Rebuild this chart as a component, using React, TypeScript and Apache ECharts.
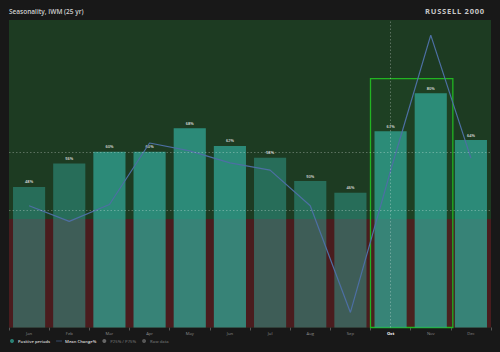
import React, { useEffect, useRef } from "react";
import * as echarts from "echarts";

// Monthly seasonality for IWM over 25 years
const months = ["Jan", "Feb", "Mar", "Apr", "May", "Jun", "Jul", "Aug", "Sep", "Oct", "Nov", "Dec"];
// Share of years in which the month closed higher (%)
const positivePeriods = [48, 56, 60, 60, 68, 62, 58, 50, 46, 67, 80, 64];
// Mean monthly change (%)
const meanChange = [0.22, -0.04, 0.24, 1.26, 1.13, 0.93, 0.81, 0.22, -1.55, 0.8, 3.05, 1.01];
// Reference levels on the positive-periods axis
const thresholds = [40, 60];
const currentMonth = "Oct";
// Highlighted window (category index range) and its height
const windowStart = 8.5;
const windowEnd = 10.55;
const windowTop = 85;

const TEAL_STRONG = "rgba(50,166,150,0.75)";
const TEAL_WEAK = "rgba(50,166,150,0.48)";
const FONT = "'Open Sans', 'Noto Sans', sans-serif";
const HS = "\u200A";

export default function App() {
  const ref = useRef<HTMLDivElement>(null);

  useEffect(() => {
    if (!ref.current) return;
    const chart = echarts.init(ref.current, null, { renderer: "svg" });
    const avg = positivePeriods.reduce((a, b) => a + b, 0) / positivePeriods.length;

    chart.setOption({
      animation: false,
      backgroundColor: "#181818",
      textStyle: { fontFamily: FONT },
      title: [
        {
          text: "Seasonality, IWM (25 yr)",
          left: 9,
          top: 8,
          padding: 0,
          textStyle: { color: "#cfcfcf", fontSize: 6.5, fontWeight: 600, fontFamily: FONT },
        },
        {
          text: "RUSSELL 2000".split("").join(HS),
          right: 16,
          top: 7,
          padding: 0,
          textStyle: { color: "#c8c8c8", fontSize: 7.5, fontWeight: "bold", fontFamily: FONT },
        },
      ],
      legend: {
        left: 10,
        top: 339,
        padding: 0,
        itemGap: 6,
        itemWidth: 6,
        itemHeight: 4,
        inactiveColor: "#666",
        textStyle: { color: "#dcdcdc", fontSize: 4.2, fontWeight: 600, fontFamily: FONT, padding: [0, 0, 0, -2] },
        selected: { "P25% / P75%": false, "Raw data": false },
        data: [
          { name: "Positive periods", icon: "circle" },
          { name: "Mean Change%", icon: "path://M0,5 L20,5 L20,7 L0,7 Z" },
          { name: "P25% / P75%", icon: "circle" },
          { name: "Raw data", icon: "circle" },
        ],
      },
      grid: {
        left: 9,
        right: 9,
        top: 20,
        bottom: 24.5,
        show: true,
        borderWidth: 0,
        backgroundColor: "#1d3b22",
      },
      xAxis: [
        {
          type: "category",
          data: months.map((m) =>
            m === currentMonth
              ? { value: m, textStyle: { color: "#ffffff", fontWeight: "bold" } }
              : m
          ),
          axisLine: { show: false },
          axisTick: { show: true, length: 3, lineStyle: { color: "#555" } },
          axisLabel: { color: "#8a8a8a", fontSize: 4.2, margin: 4 },
          splitLine: { show: false },
        },
        {
          type: "value",
          min: -0.5,
          max: 11.5,
          show: false,
        },
      ],
      yAxis: [
        { type: "value", min: 0, max: 105, show: false, splitLine: { show: false } },
        { type: "value", min: -1.8, max: 3.3, show: false, splitLine: { show: false } },
      ],
      series: [
        {
          // negative zone of the mean-change axis
          name: "zone",
          type: "line",
          yAxisIndex: 1,
          data: [],
          z: 1,
          silent: true,
          markArea: {
            silent: true,
            itemStyle: { color: "#4a1c1e" },
            data: [[{ yAxis: -1.8 }, { yAxis: 0 }]],
          },
        },
        {
          name: "Positive periods",
          type: "bar",
          z: 2,
          barWidth: "80%",
          itemStyle: { color: TEAL_STRONG },
          data: positivePeriods.map((v) => ({
            value: v,
            itemStyle: { color: v >= avg ? TEAL_STRONG : TEAL_WEAK },
          })),
          label: {
            show: true,
            position: "top",
            distance: 3,
            color: "#dddddd",
            fontSize: 4,
            fontWeight: 600,
            formatter: "{c}%",
          },
          markLine: {
            silent: true,
            symbol: "none",
            label: { show: false },
            lineStyle: { color: "rgba(255,255,255,0.28)", type: [1.5, 2], width: 1 },
            data: [
              ...thresholds.map((t) => ({ yAxis: t })),
              { xAxis: currentMonth },
            ],
          },
        },
        {
          // highlighted seasonal window
          name: "window",
          type: "line",
          xAxisIndex: 1,
          data: [],
          z: 3,
          silent: true,
          markArea: {
            silent: true,
            itemStyle: {
              color: "rgba(80,200,80,0.04)",
              borderColor: "#22b422",
              borderWidth: 1.3,
            },
            data: [[{ xAxis: windowStart, yAxis: windowTop }, { xAxis: windowEnd, yAxis: 0 }]],
          },
        },
        {
          name: "Mean Change%",
          type: "line",
          yAxisIndex: 1,
          z: 4,
          data: meanChange,
          showSymbol: false,
          symbol: "none",
          itemStyle: { color: "#4d6fa3" },
          lineStyle: { color: "#4d6fa3", width: 1.2 },
        },
        {
          name: "P25% / P75%",
          type: "line",
          yAxisIndex: 1,
          data: [],
          itemStyle: { color: "#777" },
        },
        {
          name: "Raw data",
          type: "scatter",
          yAxisIndex: 1,
          data: [],
          itemStyle: { color: "#777" },
        },
      ],
    });

    return () => chart.dispose();
  }, []);

  return (
    <div
      ref={ref}
      style={{ position: "fixed", left: 0, top: 0, width: 500, height: 352 }}
    />
  );
}
